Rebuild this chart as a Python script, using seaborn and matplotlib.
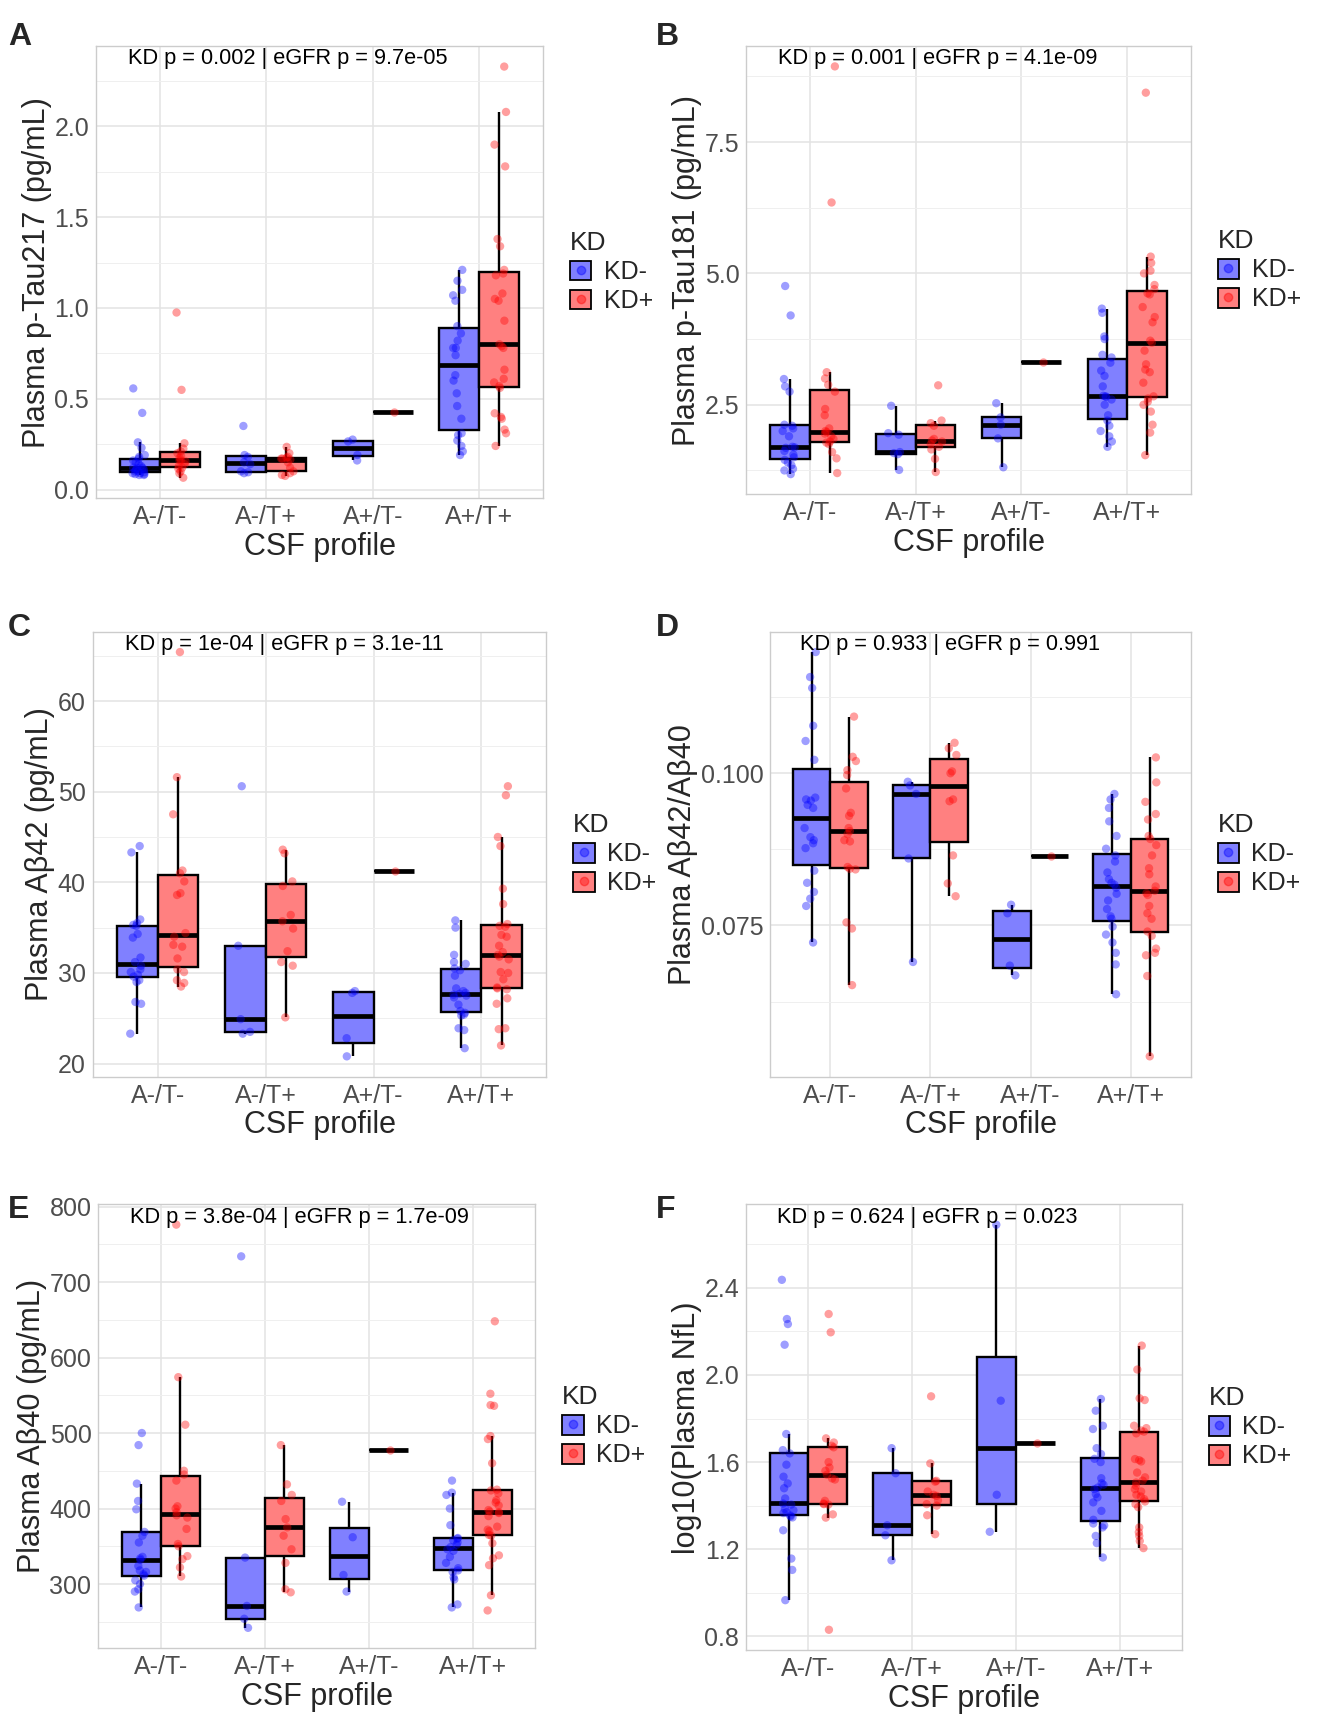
import numpy as np
import pandas as pd
import seaborn as sns
import matplotlib.pyplot as plt
from matplotlib.ticker import MultipleLocator, FormatStrFormatter
from matplotlib.patches import Patch
from matplotlib.lines import Line2D
from matplotlib.legend_handler import HandlerTuple

profiles = ['A-/T-', 'A-/T+', 'A+/T-', 'A+/T+']
kd_levels = ['KD-', 'KD+']

# values per CSF profile
ptau217_neg = [
    [0.557, 0.422, 0.26, 0.23, 0.19, 0.18, 0.17, 0.16, 0.15, 0.14, 0.13, 0.12, 0.12,
     0.12, 0.11, 0.11, 0.10, 0.10, 0.095, 0.09, 0.09, 0.085, 0.085, 0.08, 0.08],
    [0.35, 0.19, 0.18, 0.15, 0.14, 0.10, 0.095, 0.09],
    [0.275, 0.265, 0.19, 0.16],
    [1.21, 1.15, 1.10, 1.07, 1.04, 0.90, 0.86, 0.82, 0.78, 0.78, 0.74, 0.63, 0.60,
     0.53, 0.46, 0.39, 0.31, 0.30, 0.27, 0.24, 0.21, 0.19],
]
ptau217_pos = [
    [0.975, 0.549, 0.255, 0.225, 0.21, 0.20, 0.185, 0.175, 0.16, 0.16, 0.155, 0.14,
     0.13, 0.12, 0.115, 0.10, 0.09, 0.065],
    [0.235, 0.20, 0.18, 0.175, 0.17, 0.17, 0.165, 0.15, 0.12, 0.10, 0.09, 0.08, 0.075],
    [0.427],
    [2.33, 2.08, 1.90, 1.78, 1.38, 1.34, 1.21, 1.19, 1.18, 1.08, 1.05, 1.04, 0.93, 0.80,
     0.79, 0.78, 0.66, 0.61, 0.59, 0.57, 0.56, 0.42, 0.40, 0.39, 0.33, 0.31, 0.24],
]

ptau181_neg = [
    [4.76, 4.20, 2.99, 2.85, 2.75, 2.12, 2.10, 2.05, 2.00, 1.90, 1.70, 1.69, 1.68, 1.62,
     1.55, 1.50, 1.45, 1.40, 1.35, 1.28, 1.25, 1.18],
    [2.48, 1.96, 1.93, 1.60, 1.58, 1.56, 1.26],
    [2.53, 2.26, 2.12, 1.86, 1.31],
    [4.33, 4.25, 3.80, 3.75, 3.45, 3.40, 3.30, 3.15, 3.05, 2.85, 2.66, 2.67, 2.65, 2.60,
     2.50, 2.30, 2.20, 2.10, 2.00, 1.90, 1.80, 1.70],
]
ptau181_pos = [
    [8.94, 6.35, 3.12, 3.00, 2.88, 2.75, 2.42, 2.30, 2.05, 2.00, 1.98, 1.95, 1.90, 1.85,
     1.80, 1.78, 1.75, 1.60, 1.48, 1.20],
    [2.87, 2.20, 2.15, 2.10, 1.85, 1.82, 1.80, 1.75, 1.70, 1.65, 1.47, 1.22],
    [3.31],
    [8.44, 5.32, 5.20, 5.05, 5.00, 4.78, 4.70, 4.62, 4.60, 4.36, 4.17, 4.07, 3.72, 3.68,
     3.53, 3.27, 3.17, 3.12, 2.92, 2.66, 2.62, 2.56, 2.50, 2.37, 2.12, 1.97, 1.54],
]

ab42_neg = [
    [44.0, 43.3, 35.9, 35.5, 35.3, 35.2, 34.3, 33.9, 31.7, 31.2, 30.8, 30.4, 30.1, 29.8,
     29.6, 29.2, 29.0, 26.8, 26.6, 23.3],
    [50.6, 33.0, 24.9, 23.5, 23.3],
    [28.0, 27.8, 22.8, 20.8],
    [35.8, 35.0, 32.0, 31.2, 31.0, 30.5, 30.3, 29.7, 28.3, 28.0, 27.8, 27.7, 27.6, 27.5,
     27.3, 26.5, 25.8, 25.6, 25.4, 25.3, 23.9, 23.7, 21.7],
]
ab42_pos = [
    [65.4, 51.6, 47.5, 41.3, 41.0, 40.1, 38.8, 38.6, 34.4, 34.0, 33.1, 32.9, 31.6, 30.4,
     30.1, 29.2, 28.9, 28.5],
    [43.6, 43.2, 40.1, 39.6, 36.4, 35.7, 34.9, 32.4, 31.2, 30.8, 25.1],
    [41.3],
    [50.6, 49.6, 45.0, 44.0, 39.3, 37.6, 35.4, 35.2, 35.1, 34.2, 34.0, 33.0, 32.3, 32.0,
     31.8, 31.5, 30.1, 30.0, 29.3, 28.4, 28.2, 28.3, 27.2, 26.6, 23.9, 23.8, 22.0],
]

ratio_neg = [
    [0.1199, 0.1158, 0.1140, 0.1078, 0.1053, 0.1022, 0.0960, 0.0957, 0.0955, 0.0948,
     0.0943, 0.0910, 0.0895, 0.0890, 0.0885, 0.0877, 0.0840, 0.0820, 0.0805, 0.0794,
     0.0782, 0.0722],
    [0.0986, 0.0980, 0.0966, 0.0860, 0.0690],
    [0.0784, 0.0770, 0.0684, 0.0668],
    [0.0966, 0.0957, 0.0943, 0.0921, 0.0897, 0.0876, 0.0865, 0.0855, 0.0837, 0.0826,
     0.0820, 0.0817, 0.0812, 0.0802, 0.0791, 0.0777, 0.0765, 0.0761, 0.0748, 0.0735,
     0.0722, 0.0705, 0.0686, 0.0637],
]
ratio_pos = [
    [0.1093, 0.1027, 0.1020, 0.1005, 0.0997, 0.0975, 0.0935, 0.0930, 0.0910, 0.0905,
     0.0900, 0.0890, 0.0888, 0.0846, 0.0843, 0.0842, 0.0755, 0.0745, 0.0652],
    [0.1050, 0.1041, 0.1030, 0.1003, 0.1000, 0.0957, 0.0954, 0.0865, 0.0819, 0.0798],
    [0.0864],
    [0.1026, 0.0985, 0.0953, 0.0933, 0.0924, 0.0897, 0.0892, 0.0882, 0.0865, 0.0844,
     0.0834, 0.0814, 0.0807, 0.0803, 0.0800, 0.0782, 0.0770, 0.0761, 0.0740, 0.0733,
     0.0712, 0.0705, 0.0701, 0.0667, 0.0535],
]

ab40_neg = [
    [500, 484, 433, 410, 399, 369, 364, 355, 336, 334, 332, 324, 318, 316, 313, 311, 305,
     300, 293, 290, 269],
    [734, 335, 271, 254, 242],
    [409, 362, 312, 290],
    [437, 421, 418, 400, 378, 361, 360, 358, 355, 352, 349, 346, 344, 336, 328, 321, 318,
     316, 309, 306, 273, 269],
]
ab40_pos = [
    [776, 574, 511, 450, 445, 437, 403, 400, 395, 391, 388, 373, 353, 350, 337, 333, 322, 310],
    [484, 432, 418, 410, 386, 375, 364, 346, 328, 293, 289],
    [478],
    [648, 552, 537, 536, 496, 492, 460, 425, 424, 420, 411, 408, 404, 398, 396, 395, 394,
     390, 376, 372, 370, 365, 364, 354, 338, 334, 325, 285, 265],
]

nfl_neg = [
    [2.437, 2.257, 2.234, 2.139, 1.729, 1.655, 1.640, 1.588, 1.533, 1.502, 1.480, 1.433,
     1.410, 1.405, 1.385, 1.379, 1.370, 1.366, 1.355, 1.350, 1.346, 1.287, 1.157, 1.105, 0.966],
    [1.664, 1.549, 1.310, 1.264, 1.149],
    [2.69, 1.882, 1.45, 1.28],
    [1.890, 1.836, 1.767, 1.752, 1.664, 1.637, 1.615, 1.600, 1.526, 1.503, 1.496, 1.483,
     1.476, 1.453, 1.438, 1.415, 1.376, 1.335, 1.318, 1.309, 1.300, 1.261, 1.228, 1.162],
]
nfl_pos = [
    [2.28, 2.196, 1.709, 1.690, 1.675, 1.668, 1.600, 1.575, 1.560, 1.542, 1.525, 1.520,
     1.422, 1.410, 1.407, 1.405, 1.36, 1.345, 0.83],
    [1.902, 1.594, 1.514, 1.51, 1.465, 1.45, 1.445, 1.425, 1.407, 1.40, 1.356, 1.269],
    [1.69],
    [2.135, 2.025, 1.893, 1.885, 1.767, 1.756, 1.745, 1.732, 1.740, 1.614, 1.609, 1.603,
     1.552, 1.530, 1.515, 1.506, 1.491, 1.476, 1.465, 1.450, 1.442, 1.430, 1.419, 1.407,
     1.393, 1.300, 1.278, 1.261, 1.238, 1.205],
]


def long_table(neg, pos):
    rows = []
    for kd, groups in (('KD-', neg), ('KD+', pos)):
        for prof, vals in zip(profiles, groups):
            for v in vals:
                rows.append((prof, kd, v))
    return pd.DataFrame(rows, columns=['CSF', 'KD', 'value'])


panels = [
    ('A', ptau217_neg, ptau217_pos, 'Plasma p-Tau217 (pg/mL)',
     'KD p = 0.002 | eGFR p = 9.7e-05', [0.0727, 0.7098, 0.338, 0.2634], 0.5, '%.1f'),
    ('B', ptau181_neg, ptau181_pos, 'Plasma p-Tau181 (pg/mL)',
     'KD p = 0.001 | eGFR p = 4.1e-09', [0.5645, 0.712, 0.3363, 0.2612], 2.5, '%.1f'),
    ('C', ab42_neg, ab42_pos, 'Plasma A\u03b242 (pg/mL)',
     'KD p = 1e-04 | eGFR p = 3.1e-11', [0.0702, 0.373, 0.343, 0.259], 10, '%d'),
    ('D', ratio_neg, ratio_pos, 'Plasma A\u03b242/A\u03b240',
     'KD p = 0.933 | eGFR p = 0.991', [0.5826, 0.373, 0.3182, 0.259], 0.025, '%.3f'),
    ('E', ab40_neg, ab40_pos, 'Plasma A\u03b240 (pg/mL)',
     'KD p = 3.8e-04 | eGFR p = 1.7e-09', [0.0744, 0.0402, 0.3306, 0.2583], 100, '%d'),
    ('F', nfl_neg, nfl_pos, 'log10(Plasma NfL)',
     'KD p = 0.624 | eGFR p = 0.023', [0.5645, 0.039, 0.3294, 0.2595], 0.4, '%.1f'),
]

letter_pos = {'A': (0.006, 0.987), 'B': (0.496, 0.987), 'C': (0.006, 0.643),
              'D': (0.496, 0.643), 'E': (0.006, 0.304), 'F': (0.496, 0.304)}

sns.set_style('white')
plt.rcParams['font.family'] = ['Liberation Sans', 'DejaVu Sans']

box_pal = {'KD-': '#8080FF', 'KD+': '#FF8080'}
pt_pal = {'KD-': 'blue', 'KD+': 'red'}

np.random.seed(7)
fig = plt.figure(figsize=(13.22, 17.17), dpi=100)

for letter, neg, pos, ylab, note, rect, step, fmt in panels:
    df = long_table(neg, pos)
    ax = fig.add_axes(rect)
    sns.boxplot(data=df, x='CSF', y='value', hue='KD', order=profiles,
                hue_order=kd_levels, palette=box_pal, saturation=1, width=0.75,
                gap=0, dodge=True, showfliers=False, showcaps=False,
                linecolor='black', linewidth=1.7, legend=False,
                medianprops={'linewidth': 3.4, 'color': 'black'}, ax=ax)
    sns.stripplot(data=df, x='CSF', y='value', hue='KD', order=profiles,
                  hue_order=kd_levels, palette=pt_pal, dodge=True, jitter=0.12,
                  size=6, alpha=0.38, linewidth=0, legend=False, ax=ax)

    ax.set_xlim(-0.6, 3.6)
    ax.yaxis.set_major_locator(MultipleLocator(step))
    ax.yaxis.set_minor_locator(MultipleLocator(step / 2))
    ax.yaxis.set_major_formatter(FormatStrFormatter(fmt))
    ax.set_axisbelow(True)
    ax.grid(True, which='major', color='#E3E3E3', linewidth=1.1)
    ax.grid(True, which='minor', axis='y', color='#EFEFEF', linewidth=0.7)
    for sp in ax.spines.values():
        sp.set_color('#CCCCCC')
        sp.set_linewidth(1.0)
    ax.tick_params(axis='both', which='major', labelsize=18, colors='#B3B3B3',
                   labelcolor='#4D4D4D', length=3, width=0.8, pad=2)
    ax.tick_params(axis='y', which='minor', length=0)
    ax.set_xlabel('CSF profile', fontsize=22, labelpad=2)
    ax.set_ylabel(ylab, fontsize=22, labelpad=2)

    ax.text(-0.3, 0.995, note, transform=ax.get_xaxis_transform(), ha='left',
            va='top', fontsize=15.7, color='black')

    handles = [(Patch(facecolor=box_pal[k], edgecolor='black', linewidth=1.3),
                Line2D([], [], marker='o', linestyle='', color=pt_pal[k],
                       alpha=0.4, markersize=6)) for k in kd_levels]
    ax.legend(handles, kd_levels, handler_map={tuple: HandlerTuple(ndivide=1, pad=0)},
              loc='center left', bbox_to_anchor=(1.01, 0.5), frameon=False,
              title='KD', fontsize=18, title_fontsize=19, handlelength=0.85,
              handleheight=0.85, handletextpad=0.5, labelspacing=0.2,
              alignment='left')

    fig.text(letter_pos[letter][0], letter_pos[letter][1], letter, fontsize=23,
             fontweight='bold', va='top', ha='left')

fig.savefig('out.png', dpi=100)
